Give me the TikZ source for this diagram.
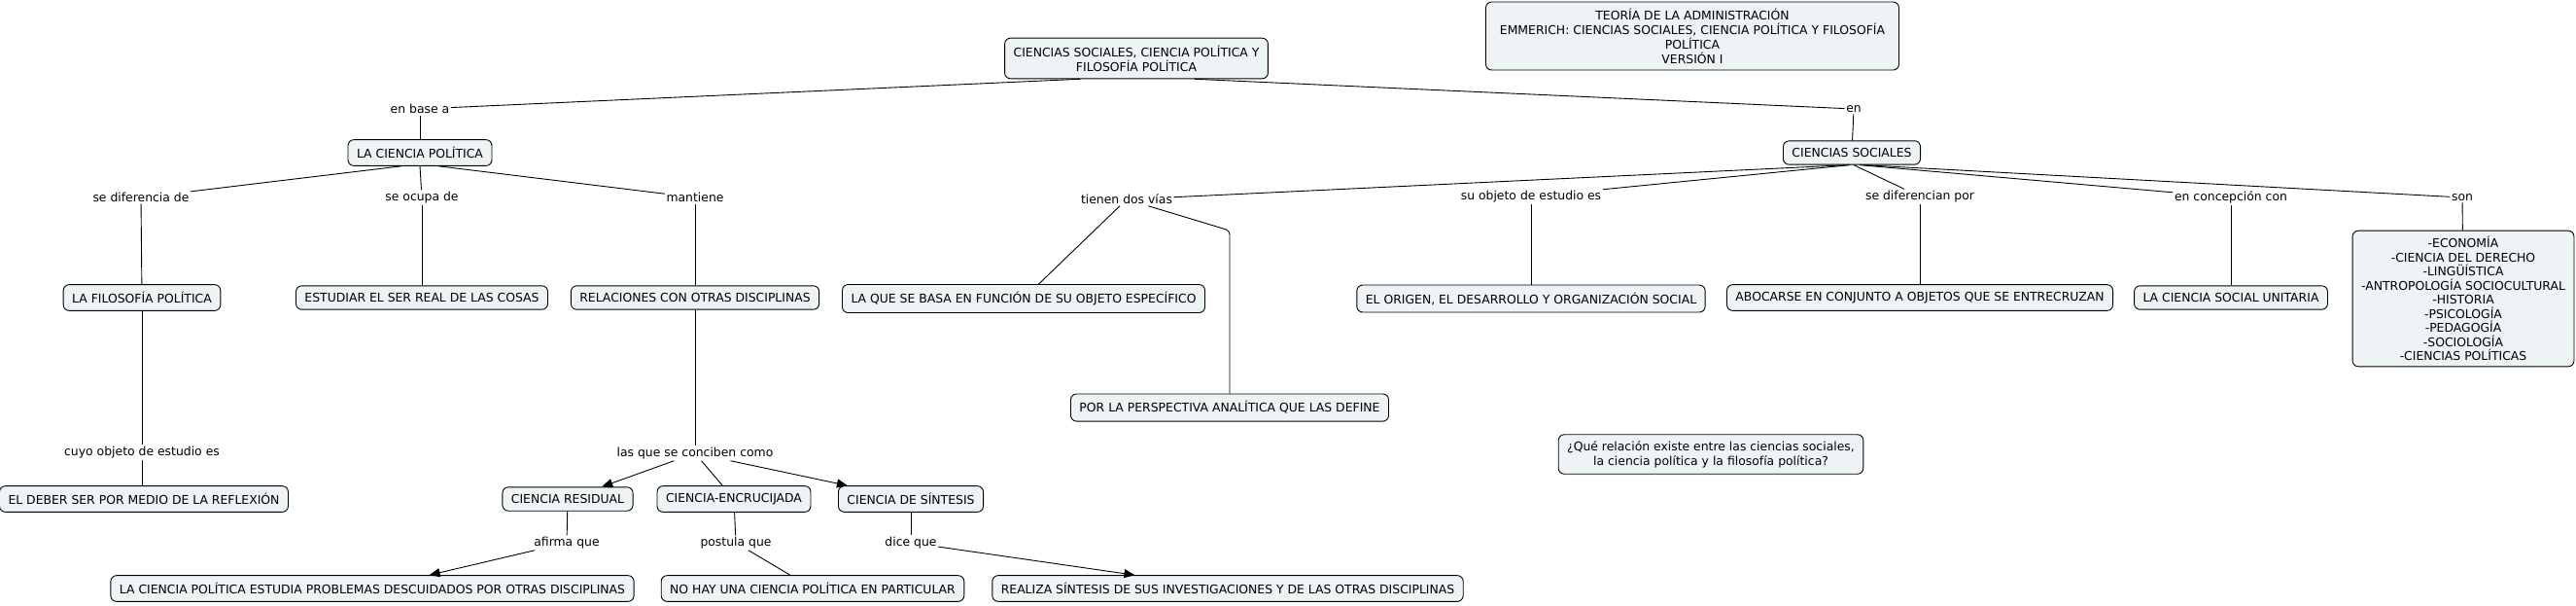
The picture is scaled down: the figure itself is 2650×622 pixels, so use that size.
\documentclass[tikz,border=0pt]{standalone}
\usepackage{fontspec}
\setmainfont{DejaVu Sans}
\usetikzlibrary{arrows.meta}
\definecolor{cfill}{RGB}{238,244,246}
\tikzset{
  cpt/.style={draw, line width=0.9pt, rounded corners=6pt, fill=cfill,
    inner xsep=9pt, inner ysep=7.5pt, align=center},
  lbl/.style={inner sep=1.5pt},
  lnk/.style={line width=0.9pt},
  arr/.style={lnk, -{Triangle[length=11pt,width=9pt]}}
}

\begin{document}
\begin{tikzpicture}[x=1pt, y=-1pt, font=\fontsize{12.4}{15}\selectfont]
    \useasboundingbox (0,0) rectangle (2650,622);

    % top
    \node[cpt] (main) at (1169,60) {CIENCIAS SOCIALES, CIENCIA POLÍTICA Y\\FILOSOFÍA POLÍTICA};
    \node[cpt, minimum width=425pt, minimum height=70pt, inner xsep=2pt, inner ysep=4pt] (title) at (1741,37)
      {TEORÍA DE LA ADMINISTRACIÓN\\EMMERICH: CIENCIAS SOCIALES, CIENCIA POLÍTICA Y FILOSOFÍA\\POLÍTICA\\VERSIÓN I};
    \node[lbl] (basea) at (432,112) {en base a};
    \node[lbl] (en) at (1907,112) {en};
    \node[cpt] (lcp) at (432,157) {LA CIENCIA POLÍTICA};
    \node[cpt] (cs) at (1905,157) {CIENCIAS SOCIALES};

    % linking phrases, first row
    \node[lbl] (dif) at (145,203) {se diferencia de};
    \node[lbl] (ocu) at (434,203) {se ocupa de};
    \node[lbl] (man) at (715,203) {mantiene};
    \node[lbl] (tdv) at (1159,205) {tienen dos vías};
    \node[lbl] (obj) at (1575,202) {su objeto de estudio es};
    \node[lbl] (sdp) at (1975,202) {se diferencian por};
    \node[lbl] (con) at (2295,203) {en concepción con};
    \node[lbl] (son) at (2533,203) {son};

    % concepts, second row
    \node[cpt] (fil) at (146,306) {LA FILOSOFÍA POLÍTICA};
    \node[cpt] (est) at (434,306) {ESTUDIAR EL SER REAL DE LAS COSAS};
    \node[cpt] (rel) at (715,306) {RELACIONES CON OTRAS DISCIPLINAS};
    \node[cpt] (laq) at (1053,307) {LA QUE SE BASA EN FUNCIÓN DE SU OBJETO ESPECÍFICO};
    \node[cpt] (ori) at (1575,307) {EL ORIGEN, EL DESARROLLO Y ORGANIZACIÓN SOCIAL};
    \node[cpt] (abo) at (1975,306) {ABOCARSE EN CONJUNTO A OBJETOS QUE SE ENTRECRUZAN};
    \node[cpt] (uni) at (2295,306) {LA CIENCIA SOCIAL UNITARIA};
    \node[cpt, minimum width=226pt, inner ysep=6pt, font=\fontsize{12.4}{14.5}\selectfont] (lst) at (2534,307)
      {-ECONOMÍA\\-CIENCIA DEL DERECHO\\-LINGÜÍSTICA\\-ANTROPOLOGÍA SOCIOCULTURAL\\-HISTORIA\\-PSICOLOGÍA\\-PEDAGOGÍA\\-SOCIOLOGÍA\\-CIENCIAS POLÍTICAS};
    \node[cpt] (por) at (1265,419) {POR LA PERSPECTIVA ANALÍTICA QUE LAS DEFINE};
    \node[cpt, inner ysep=6.5pt] (preg) at (1760,467)
      {¿Qué relación existe entre las ciencias sociales,\\la ciencia política y la filosofía política?};

    % lower part
    \node[lbl] (cuy) at (146,465) {cuyo objeto de estudio es};
    \node[lbl] (lqc) at (715,466) {las que se conciben como};
    \node[cpt] (deb) at (148,513) {EL DEBER SER POR MEDIO DE LA REFLEXIÓN};
    \node[cpt] (res) at (584,513) {CIENCIA RESIDUAL};
    \node[cpt] (enc) at (755,513) {CIENCIA-ENCRUCIJADA};
    \node[cpt] (sin) at (937,513) {CIENCIA DE SÍNTESIS};
    \node[lbl] (afi) at (583,558) {afirma que};
    \node[lbl] (pos) at (757,558) {postula que};
    \node[lbl] (dic) at (937,558) {dice que};
    \node[cpt] (prob) at (383,605) {LA CIENCIA POLÍTICA ESTUDIA PROBLEMAS DESCUIDADOS POR OTRAS DISCIPLINAS};
    \node[cpt] (nohay) at (836,605) {NO HAY UNA CIENCIA POLÍTICA EN PARTICULAR};
    \node[cpt] (rea) at (1263,605) {REALIZA SÍNTESIS DE SUS INVESTIGACIONES Y DE LAS OTRAS DISCIPLINAS};

    % links
    \draw[lnk] ([xshift=-58pt]main.south) -- (basea);
    \draw[lnk] ([xshift=60pt]main.south) -- (en);
    \draw[lnk] (basea) -- (lcp);
    \draw[lnk] (en) -- (cs);
    \draw[lnk] ([xshift=-19pt]lcp.south) -- (dif);
    \draw[lnk] (lcp.south) -- (ocu);
    \draw[lnk] ([xshift=19pt]lcp.south) -- (man);
    \draw[lnk] (dif) -- (fil);
    \draw[lnk] (ocu) -- (est);
    \draw[lnk] (man) -- (rel);
    \draw[lnk] (fil) -- (cuy);
    \draw[lnk] (cuy) -- (cuy |- deb.north);
    \draw[lnk] (rel) -- (lqc);
    \draw[arr] (lqc) -- (res);
    \draw[lnk] (lqc) -- (enc);
    \draw[arr] (lqc) -- (sin);
    \draw[lnk] (res) -- (afi);
    \draw[arr] (afi) -- (prob);
    \draw[lnk] (enc) -- (pos);
    \draw[lnk] (pos) -- (nohay);
    \draw[lnk] (sin) -- (dic);
    \draw[arr] (dic) -- (rea);
    \draw[lnk] ([xshift=-4pt]cs.south) -- (tdv);
    \draw[lnk] ([xshift=-2pt]cs.south) -- (obj);
    \draw[lnk] ([xshift=2pt]cs.south) -- (sdp);
    \draw[lnk] ([xshift=8pt]cs.south) -- (con);
    \draw[lnk] ([xshift=12pt]cs.south) -- (son);
    \draw[lnk] (tdv) -- (laq);
    \draw[lnk, rounded corners=4pt] (tdv) -- (1265,237) -- (por);
    \draw[lnk] (obj) -- (ori);
    \draw[lnk] (sdp) -- (abo);
    \draw[lnk] (con) -- (uni);
    \draw[lnk] (son) -- (lst);
\end{tikzpicture}
\end{document}
